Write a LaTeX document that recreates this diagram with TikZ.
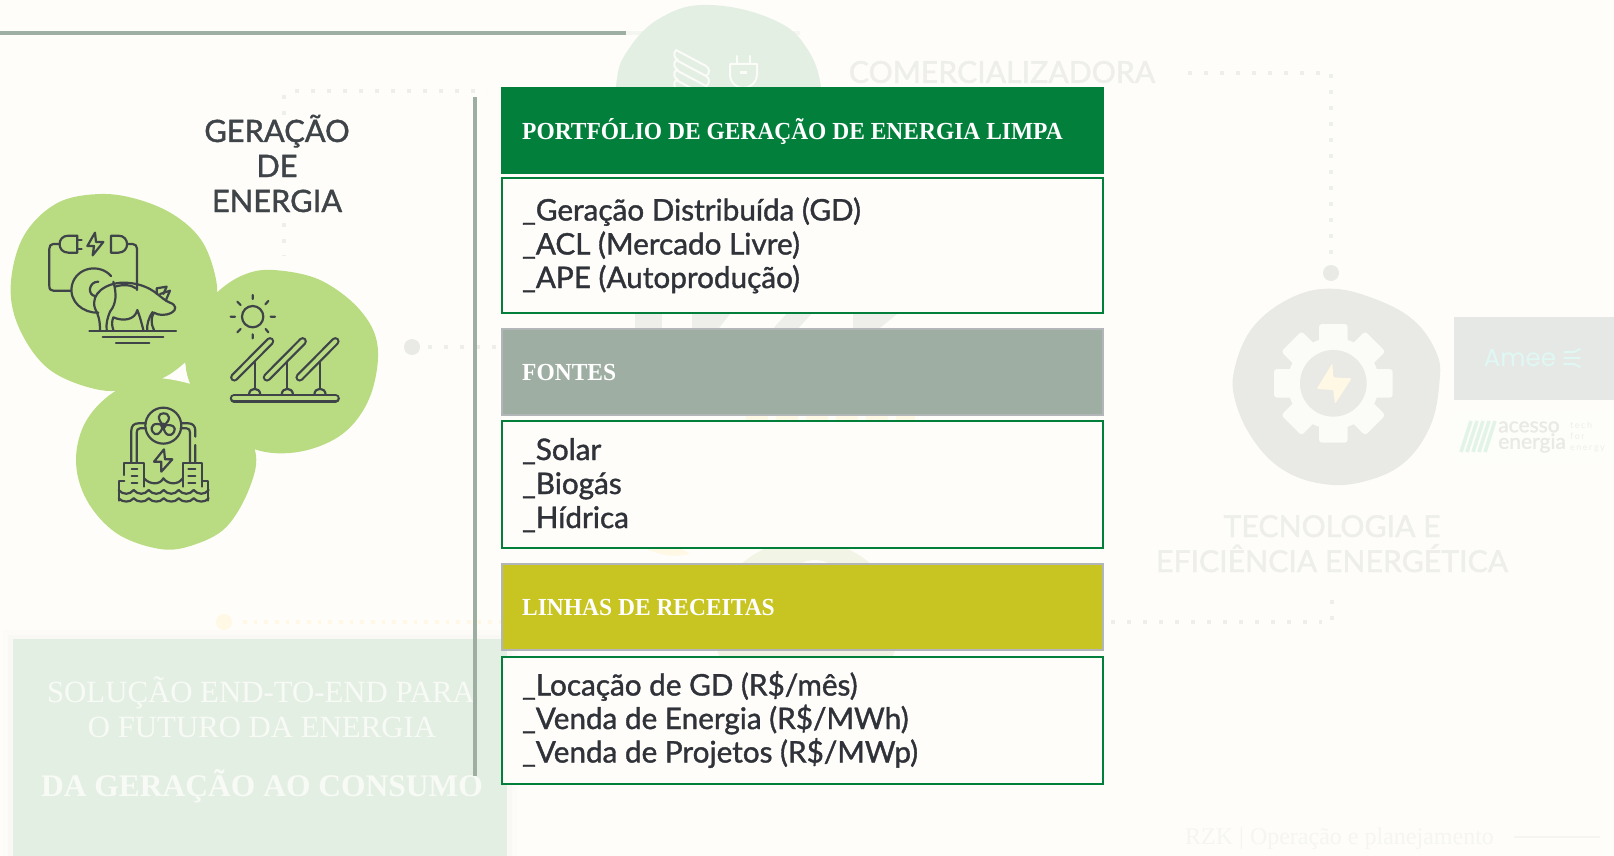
\documentclass[tikz,border=0pt]{standalone}
\usepackage{fontspec}
\setmainfont{Liberation Serif}
\newfontfamily\hdr{Liberation Serif}[FakeStretch=0.958]
\newfontfamily\nun{Lato}
\newfontfamily\nunb{Lato}[FakeBold=1.3]
\newfontfamily\pop{Poppins}
\definecolor{paper}{HTML}{FEFDF9}
\definecolor{leaf}{HTML}{B9DC82}
\definecolor{ink}{HTML}{3F4449}
\definecolor{deep}{HTML}{2F3238}
\definecolor{forest}{HTML}{037F3C}
\definecolor{sage}{HTML}{9FAEA3}
\definecolor{olive}{HTML}{C8C421}
\definecolor{edgegrey}{HTML}{B2B6B8}
\definecolor{mint}{HTML}{E4EFE4}
\definecolor{faint}{HTML}{EEEEEA}
\definecolor{fainter}{HTML}{F5F5F1}
\definecolor{blobgrey}{HTML}{E9E9E6}
\definecolor{gearwhite}{HTML}{FBFBF8}
\definecolor{paleyellow}{HTML}{FFF8E4}
\definecolor{paleolive}{HTML}{F2F4E6}
\definecolor{panelwhite}{HTML}{F8FBF5}
\definecolor{ameebox}{HTML}{E6E8E6}
\definecolor{ameetext}{HTML}{DFF8F3}
\definecolor{acessobox}{HTML}{FDFDF9}
\definecolor{acessomark}{HTML}{E2F4E7}
\tikzset{
  x=1pt,y=-1pt,
  dotline/.style={line width=4pt,dash pattern=on 4pt off 12pt,draw=faint},
  yellowdots/.style={line width=3.5pt,dash pattern=on 3.5pt off 7.17pt,draw=paleyellow},
  head/.style={fill=#1,draw=edgegrey,line width=1.5pt},
  listbox/.style={fill=paper,draw=forest,line width=2pt},
  headtext/.style={anchor=base west,inner sep=0pt,text=white,font=\hdr\fontsize{24.5}{30}\selectfont\bfseries},
  listtext/.style={anchor=base west,inner sep=0pt,text=deep,font=\nunb\fontsize{29.7}{34}\selectfont},
  icon/.style={draw=ink,line width=2.2pt,line cap=round,line join=round},
  panelbar/.style={line cap=round,draw=ink,line width=8.5pt},
  panelgap/.style={line cap=round,draw=leaf,line width=4pt},
  pale/.style={draw=gearwhite,line width=2pt,line cap=round,line join=round},
}
\begin{document}
\begin{tikzpicture}
\useasboundingbox (0,0) rectangle (1614,856);
\fill[paper] (0,0) rectangle (1614,856);
% top bar
\fill[fainter] (626,31) rectangle (800,35);
% top faint blob
\fill[mint] plot[smooth cycle,tension=0.7] coordinates {(710,5) (774,20) (808,50) (822,95) (820,150) (616,150) (616,86) (628,50) (662,17)};
\foreach \i in {0,1,2,3}{
  \draw[pale] (676,{50+\i*10}) -- (706,{66+\i*10});
  \draw[pale] (676,{50+\i*10}) .. controls (673,{54+\i*10}) and (674,{58+\i*10}) .. (678,{60+\i*10});
  \draw[pale] (706,{66+\i*10}) .. controls (710,{68+\i*10}) and (710,{74+\i*10}) .. (706,{76+\i*10});
}
\draw[pale] (730,64) -- (757,64) -- (757,74) .. controls (757,84) and (748,88) .. (743,88) .. controls (738,88) and (730,84) .. (730,74) -- cycle;
\draw[pale] (737,64) -- (737,56) (750,64) -- (750,56);
\fill[gearwhite] (740,71) rectangle (747,74);
\fill[sage] (0,31) rectangle (626,35);
% title comercializadora
\node[anchor=center,inner sep=0pt,text=faint,font=\nunb\fontsize{30.2}{34}\selectfont] (comer) at (1002,72) {COMERCIALIZADORA};
% dotted lines
\coordinate (dlA) at (295,91); \coordinate (dlB) at (487,91);
\draw[dotline] (dlA) -- (dlB);
\coordinate (dlC) at (284,95); \coordinate (dlD) at (284,115);
\draw[dotline] (dlC) -- (dlD);
\coordinate (dlE) at (284,223); \coordinate (dlF) at (284,256);
\draw[dotline] (dlE) -- (dlF);
\coordinate (dlG) at (1188,73); \coordinate (dlH) at (1331,73); \coordinate (dlI) at (1331,262);
\draw[dotline] (dlG) -- (dlH) -- (dlI);
\fill[blobgrey] (1331,273) circle (8);
\fill[blobgrey] (412,347) circle (8);
\coordinate (dlJ) at (428,347); \coordinate (dlK) at (500,347);
\draw[dotline] (dlJ) -- (dlK);
\fill[paleyellow] (224,622) circle (8);
\coordinate (dlL) at (243,622); \coordinate (dlM) at (505,622);
\draw[yellowdots] (dlL) -- (dlM);
\coordinate (dlN) at (1111,622); \coordinate (dlO) at (1322,622);
\draw[dotline] (dlN) -- (dlO);
\coordinate (dlP) at (1332,620); \coordinate (dlQ) at (1332,600);
\draw[dotline] (dlP) -- (dlQ);
% watermark fragments behind boxes
\fill[faint] (635,310) rectangle (662,332);
\fill[faint] (692,310) -- (733,310) -- (716,332) -- (692,332) -- cycle;
\fill[faint] (790,310) -- (815,310) -- (795,332) -- (770,332) -- cycle;
\fill[faint] (853,310) -- (902,310) -- (875,332) -- (853,332) -- cycle;
\draw[paleyellow,line width=5pt,dash pattern=on 22pt off 8pt] (746,418) -- (915,418);
\fill[paleyellow] (645,548) .. controls (665,558) and (680,556) .. (690,554) -- (680,548) -- cycle;
\fill[paleolive] (806,625) ellipse (93 and 85);
\fill[paper] (815,590) circle (30);
% bottom panel with soft shadow
\fill[fainter!25!paper] (3,630) rectangle (517,856);
\fill[fainter!60!paper] (8,635) rectangle (512,856);
\fill[mint] (13,639) rectangle (507,856);
\node[anchor=base,inner sep=0pt,text=panelwhite,font=\fontsize{30.8}{36}\selectfont] (solA) at (261,702) {SOLUÇÃO END-TO-END PARA};
\node[anchor=base,inner sep=0pt,text=panelwhite,font=\fontsize{30.8}{36}\selectfont] (solB) at (262,737) {O FUTURO DA ENERGIA};
\node[anchor=base,inner sep=0pt,text=panelwhite,font=\fontsize{31.5}{36}\selectfont\bfseries] (solC) at (262,796) {DA GERAÇÃO AO CONSUMO};
% separator
\fill[sage] (473,97) rectangle (477,776);
% headers & boxes
\path[head=forest,draw=forest] (502,87.5) rectangle (1103,173.5);
\path[listbox] (502,178) rectangle (1103,313);
\path[head=sage] (502,329) rectangle (1103,415);
\path[listbox] (502,421) rectangle (1103,548);
\path[head=olive] (502,564) rectangle (1103,650);
\path[listbox] (502,657) rectangle (1103,784);
\node[headtext] (hA) at (522,139.5) {PORTFÓLIO DE GERAÇÃO DE ENERGIA LIMPA};
\node[headtext] (hB) at (522,380.5) {FONTES};
\node[headtext] (hC) at (522,615.5) {LINHAS DE RECEITAS};
\node[listtext] (a1) at (522,220.5) {\_Geração Distribuída (GD)};
\node[listtext] (a2) at (522,254.5) {\_ACL (Mercado Livre)};
\node[listtext] (a3) at (522,288) {\_APE (Autoprodução)};
\node[listtext] (b1) at (522,460) {\_Solar};
\node[listtext] (b2) at (522,494) {\_Biogás};
\node[listtext] (b3) at (522,528) {\_Hídrica};
\node[listtext] (c1) at (522,695.5) {\_Locação de GD (R\$/mês)};
\node[listtext] (c2) at (522,729) {\_Venda de Energia (R\$/MWh)};
\node[listtext] (c3) at (522,762.5) {\_Venda de Projetos (R\$/MWp)};
% left title
\node[anchor=base,inner sep=0pt,text=ink,font=\nunb\fontsize{30.8}{34}\selectfont] (gA) at (277,142) {GERAÇÃO};
\node[anchor=base,inner sep=0pt,text=ink,font=\nunb\fontsize{30.8}{34}\selectfont] (gB) at (277,177) {DE};
\node[anchor=base,inner sep=0pt,text=ink,font=\nunb\fontsize{30.8}{34}\selectfont] (gC) at (277,212) {ENERGIA};
% right title
\node[anchor=base,inner sep=0pt,text=faint,font=\nunb\fontsize{30.2}{34}\selectfont] (tA) at (1332,537) {TECNOLOGIA E};
\node[anchor=base,inner sep=0pt,text=faint,font=\nunb\fontsize{30.2}{34}\selectfont] (tB) at (1332,572) {EFICIÊNCIA ENERGÉTICA};
% gear group
\begin{scope}[shift={(1120,240)},scale=1/3]
\fill[blobgrey] plot[smooth cycle,tension=0.65] coordinates {(630,146) (760,175) (880,240) (950,340) (958,430) (930,560) (850,670) (730,725) (610,732) (490,690) (400,600) (345,480) (345,380) (400,260) (510,175)};
\fill[gearwhite] (640,430) circle (137);
\foreach \a in {0,45,...,315}{
  \fill[gearwhite,rounded corners=3pt,rotate around={\a:(640,430)}] (597,252) rectangle (683,340);
}
\fill[blobgrey] (640,430) circle (100);
\fill[paleyellow,rounded corners=1pt] (637,370) -- (590,447) -- (640,450) -- (645,492) -- (695,415) -- (640,412) -- cycle;
\end{scope}
% logos
\fill[ameebox] (1454,317) rectangle (1614,400);
\fill[acessobox] (1454,410) rectangle (1614,463);
\node[anchor=center,inner sep=0pt,text=ameetext,font=\pop\fontsize{24.5}{28}\selectfont] (amee) at (1520,358) {Amee};
\draw[ameetext,line width=1.8pt,line cap=round] (1564,352) -- (1574,352) -- (1580,349);
\draw[ameetext,line width=1.8pt,line cap=round] (1564,358) -- (1580,358);
\draw[ameetext,line width=1.8pt,line cap=round] (1564,364) -- (1574,364) -- (1580,367);
\foreach \i in {0,1,2,3,4}{
  \draw[acessomark,line width=3.5pt] ({1461+\i*6},452) -- ({1471+\i*6},421);
}
\node[anchor=west,inner sep=0pt,align=left,text=blobgrey,font=\nunb\fontsize{21}{16.5}\selectfont] (aca) at (1498,437) {acesso\\energia};
\node[anchor=west,inner sep=0pt,align=left,text=faint,font=\nun\fontsize{9}{11}\selectfont] (acc) at (1570,437) {t\,e\,c\,h\\f\,o\,r\\e\,n\,e\,r\,g\,y};
% footer
\node[anchor=base west,inner sep=0pt,text=fainter,font=\fontsize{24}{26}\selectfont] (foot) at (1185,844) {RZK | Operação e planejamento};
\coordinate (ftA) at (1514,837); \coordinate (ftB) at (1600,837);
\draw[fainter,line width=2pt] (ftA) -- (ftB);
% green blobs and icons
\begin{scope}[shift={(0,170)},scale=1/3]
\fill[leaf] plot[smooth cycle,tension=0.6] coordinates {(300,72) (420,90) (530,140) (610,220) (650,340) (640,420) (600,530) (520,610) (420,650) (300,660) (150,600) (60,480) (32,350) (70,200) (170,100)};
\fill[leaf] plot[smooth cycle,tension=0.6] coordinates {(820,300) (960,330) (1080,420) (1133,530) (1110,680) (1030,790) (900,845) (765,838) (660,760) (590,680) (556,580) (580,450) (650,368) (730,315)};
\fill[leaf] plot[smooth cycle,tension=0.6] coordinates {(485,625) (580,645) (690,715) (765,840) (750,950) (680,1070) (580,1125) (480,1137) (350,1090) (260,990) (228,870) (260,750) (355,658)};
\fill[paper] (555,578) .. controls (530,600) and (510,615) .. (487,625) .. controls (515,628) and (545,634) .. (569,641) .. controls (560,620) and (557,600) .. (555,578) -- cycle;
% biogas icon
\draw[icon] (232,197) -- (205,197) .. controls (170,197) and (170,248) .. (205,248) -- (232,248) -- cycle;
\draw[icon] (232,210) -- (245,210) (232,236) -- (245,236);
\draw[icon] (178,222) -- (160,222) .. controls (152,222) and (148,228) .. (148,236) -- (148,348) .. controls (148,358) and (152,362) .. (160,362) -- (212,362);
\draw[icon] (285,188) -- (262,228) -- (282,228) -- (278,256) -- (310,216) -- (288,216) -- cycle;
\draw[icon] (333,197) -- (355,197) .. controls (390,197) and (390,248) .. (355,248) -- (333,248) -- cycle;
\draw[icon] (382,222) -- (398,222) .. controls (406,222) and (411,228) .. (411,236) -- (411,360);
\draw[icon] (333,318) .. controls (300,280) and (230,290) .. (216,345) .. controls (205,395) and (250,430) .. (295,428);
\draw[icon] (295,335) .. controls (265,335) and (262,375) .. (285,378);
\draw[icon] (300,480) .. controls (300,450) and (295,435) .. (285,415) .. controls (270,370) and (320,338) .. (370,338) .. controls (410,338) and (445,350) .. (472,372) .. controls (485,382) and (495,392) .. (510,398) .. controls (530,405) and (530,420) .. (515,428) .. controls (495,438) and (475,436) .. (462,428) .. controls (455,440) and (450,455) .. (462,480);
\draw[icon] (442,480) .. controls (440,465) and (445,445) .. (458,426);
\draw[icon] (430,480) .. controls (425,460) and (420,440) .. (412,420) .. controls (405,450) and (370,455) .. (340,442) .. controls (335,455) and (335,465) .. (340,480);
\draw[icon] (320,480) .. controls (318,460) and (322,445) .. (330,425) .. controls (350,400) and (350,370) .. (340,335);
\draw[icon] (345,350) .. controls (370,342) and (395,345) .. (408,355);
\draw[icon] (470,372) -- (470,355) -- (500,350) -- (490,372) (480,372) -- (510,362) -- (497,392);
\draw[icon] (268,484) -- (528,484) (308,502) -- (490,502) (348,520) -- (448,520);
% solar icon
\draw[icon] (758,440) circle (32);
\draw[icon] (758,375) -- (758,387) (692,440) -- (705,440) (812,440) -- (825,440) (758,493) -- (758,505) (712,395) -- (722,405) (805,393) -- (796,403) (712,487) -- (722,477) (805,487) -- (797,477);
\foreach \d in {0,98,196}{
  \draw[panelbar] ({703+\d},622) -- ({810+\d},514);
  \draw[panelgap] ({703+\d},622) -- ({810+\d},514);
  \draw[icon] ({764+\d},578) -- ({764+\d},658);
  \draw[icon] ({747+\d},675) .. controls ({747+\d},650) and ({781+\d},650) .. ({781+\d},675);
}
\draw[panelbar] (702,685) -- (1007,685);
\draw[panelgap] (702,685) -- (1007,685);
% hydro icon
\draw[icon] (490,767) circle (54);
\foreach \a in {0,120,240}{
  \draw[icon,rotate around={\a:(490,767)}] (490,767) .. controls (470,745) and (475,730) .. (490,730) .. controls (510,730) and (515,750) .. (490,767);
}
\draw[icon] (490,767) circle (6);
\draw[icon] (437,760) -- (415,760) .. controls (402,760) and (394,768) .. (394,782) -- (394,878);
\draw[icon] (438,775) -- (420,775) .. controls (413,775) and (410,780) .. (410,788) -- (410,878);
\draw[icon] (543,760) -- (565,760) .. controls (578,760) and (586,768) .. (586,782) -- (586,800) (586,825) -- (586,878);
\draw[icon] (542,775) -- (560,775) .. controls (567,775) and (570,780) .. (570,788) -- (570,878);
\draw[icon] (492,838) -- (462,875) -- (484,875) -- (484,905) -- (517,868) -- (495,868) -- cycle;
\draw[icon] (373,915) -- (373,878) -- (432,878) -- (432,950) (548,950) -- (548,878) -- (606,878) -- (606,950);
\draw[icon] (395,898) -- (412,898) (395,918) -- (412,918) (395,938) -- (412,938) (565,898) -- (586,898) (565,918) -- (586,918) (565,938) -- (586,938);
\draw[icon] (373,932) -- (356,932) -- (356,992) (606,932) -- (625,932) -- (625,992);
\draw[icon] (432,925) .. controls (450,945) and (480,945) .. (490,925) .. controls (505,945) and (535,945) .. (548,925);
\foreach \i in {0,1,2,3,4,5}{
  \draw[icon] ({356+\i*45},{960}) .. controls ({368+\i*45},975) and ({390+\i*45},975) .. ({401+\i*45},960);
  \draw[icon] ({356+\i*45},{985}) .. controls ({368+\i*45},998) and ({390+\i*45},998) .. ({401+\i*45},985);
}
\end{scope}
\end{tikzpicture}
\end{document}
